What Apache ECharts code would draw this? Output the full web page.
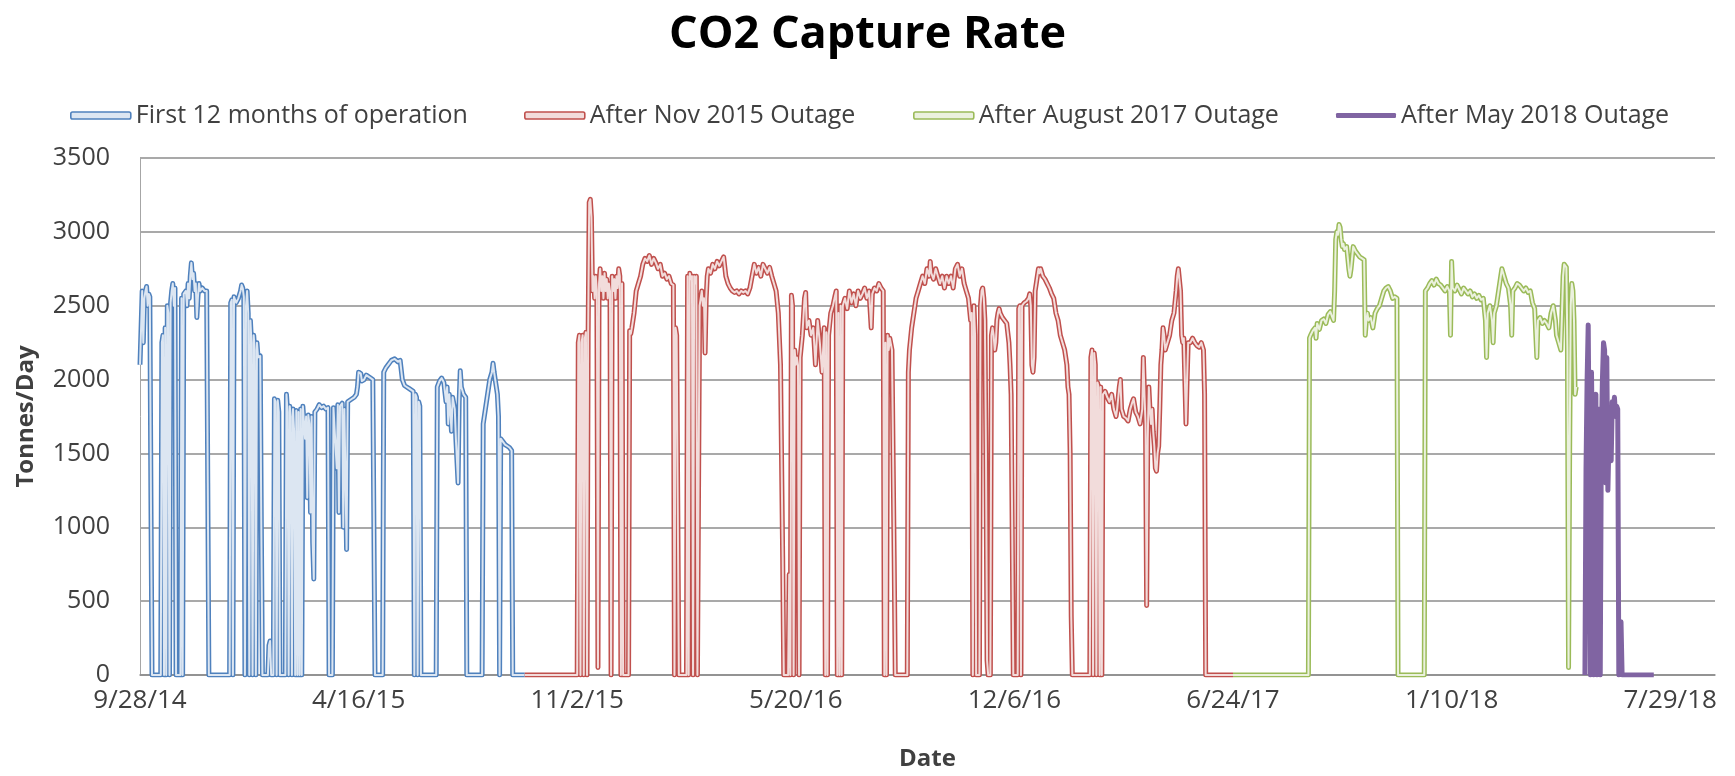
<!DOCTYPE html>
<html>
<head>
<meta charset="utf-8">
<title>CO2 Capture Rate</title>
<script src="https://cdn.jsdelivr.net/npm/echarts@6/dist/echarts.min.js"></script>
<style>
  html, body { margin: 0; padding: 0; background: #ffffff; }
  #chart { width: 1735px; height: 776px; }
</style>
</head>
<body>
<div id="chart"></div>
<script>
// Day offsets are counted from 9/28/2014; values are tonnes of CO2 per day.
const START_DATE = Date.UTC(2014, 8, 28);
const X_MAX_DAYS = 1441;
const X_TICK_DAYS = 200;
const Y_TICKS = [0, 500, 1000, 1500, 2000, 2500, 3000, 3500];

const seriesNames = [
  'First 12 months of operation',
  'After Nov 2015 Outage',
  'After August 2017 Outage',
  'After May 2018 Outage'
];

const firstYear = [
  [0,2100],[1,2350],[2,2600],[3,2250],[4,2550],[5,2600],[6,2630],[7,2500],[8,2580],[9,2560],[10,1200],[11,0],
  [19,0],[20,2250],[21,2300],[22,0],[23,2350],[24,0],[25,2500],[26,2450],[27,0],[28,2520],[29,2600],[30,2650],[31,2500],[32,2620],[33,0],
  [37,0],[38,2550],[39,0],[40,2580],[42,2600],[43,2500],[44,2650],[45,2550],[46,2700],[47,2790],[48,2680],[49,2720],[50,2600],[51,2650],[52,2420],[53,2560],[54,2650],[55,2600],[57,2620],[59,2600],[61,2600],[62,1300],[63,0],
  [82,0],[83,2520],[84,2540],[85,0],[86,2560],[88,2520],[90,2550],[92,2600],[93,2640],[94,2620],[95,2560],[96,0],[97,2500],[98,2600],[99,2450],[100,0],[101,2400],[102,2250],[103,0],[104,2300],[105,2200],[106,0],[107,2250],[108,2150],[110,2160],[111,1000],[112,0],
  [117,0],[118,200],[119,230],[120,0],
  [122,0],[123,1870],[124,1850],[125,0],[126,1860],[127,1780],[128,0],[133,0],[134,1900],[135,1780],[136,0],[137,1820],[138,1750],[139,0],[140,1800],[141,1650],[142,0],[143,1790],[144,0],[145,1780],[146,0],[147,1800],[148,0],[149,1820],[150,1830],[151,1600],[152,1750],[153,1200],[154,1760],[155,1700],[156,1100],[157,1750],[158,900],[159,650],[160,1780],[162,1800],[164,1830],[166,1810],[168,1820],[170,1800],[172,1810],[173,0],
  [176,0],[177,1810],[178,1820],[180,1400],[181,1830],[182,1100],[183,1820],[185,1840],[186,1000],[187,1800],[189,850],[190,1850],[192,1860],[194,1870],[196,1880],[198,1900],[199,1950],[200,2050],[202,2040],[203,1990],[205,2000],[207,2030],[209,2020],[211,2010],[213,2000],[214,1000],[215,0],
  [222,0],[223,2050],[225,2080],[227,2100],[230,2130],[233,2140],[236,2120],[238,2130],[240,2000],[242,1960],[244,1950],[246,1940],[248,1930],[250,1920],[251,0],[252,1900],[253,1880],[254,0],[255,1850],[256,1820],[257,0],
  [271,0],[272,1950],[274,1990],[276,2010],[278,1980],[280,1850],[281,1950],[282,1700],[283,1900],[285,1650],[286,1880],[288,1800],[289,1600],[291,1300],[292,1850],[293,2060],[294,1950],[296,1900],[298,1880],[299,0],
  [313,0],[314,1700],[316,1800],[318,1900],[320,2000],[322,2050],[323,2110],[324,2050],[325,2000],[326,1950],[327,1900],[328,1750],[329,0],[330,1600],[332,1580],[334,1560],[336,1550],[338,1540],[340,1520],[341,0],[352,0]
];

const afterNov2015 = [
  [352,0],[400,0],[401,2250],[402,2300],[403,0],[404,2250],[405,2300],[406,0],[407,2280],[408,2320],[409,0],[410,2300],[411,3200],[412,3220],[413,3100],[414,2600],[415,2700],[416,2550],[417,2700],[418,2600],[419,50],[420,2650],[421,2750],[422,2600],[423,2700],[424,2550],[425,2720],[426,2600],[427,2680],[428,2550],[429,2650],[430,2600],[431,0],[432,2700],[433,2600],[434,2680],[435,2550],[436,2700],[437,2620],[438,2750],[439,2700],[440,0],[441,2650],[442,0],
  [447,0],[448,2330],[449,2310],[450,2350],[452,2450],[454,2600],[456,2650],[458,2700],[460,2780],[462,2820],[464,2800],[466,2840],[468,2780],[470,2820],[472,2790],[474,2750],[476,2780],[478,2700],[480,2720],[482,2680],[484,2700],[486,2650],[488,2640],[489,0],[490,2350],[491,2300],[492,2300],[493,0],
  [500,0],[501,2700],[502,0],[503,2720],[504,2680],[505,2700],[506,0],[507,2700],[508,2650],[509,2700],[510,0],
  [511,0],[512,2500],[513,2550],[514,2600],[515,2500],[516,2550],[517,2180],[518,2550],[519,2700],[520,2750],[522,2720],[524,2780],[526,2750],[528,2800],[530,2770],[532,2800],[534,2830],[536,2700],[538,2650],[540,2620],[542,2600],[544,2590],[546,2600],[548,2580],[550,2600],[552,2590],[554,2600],[556,2580],[558,2620],[560,2700],[562,2780],[564,2720],[566,2760],[568,2700],[570,2780],[572,2750],[574,2720],[576,2760],[578,2700],[580,2650],[582,2600],[584,2450],[586,2100],[588,800],[589,0],
  [593,0],[594,680],[595,0],[596,2570],[597,2500],[598,0],[599,2200],[600,2100],[601,2150],[602,2100],[603,0],[604,2150],[606,2300],[608,2550],[609,2590],[610,2350],[612,2400],[614,2300],[616,2350],[618,2100],[620,2400],[622,2250],[624,2050],[626,2350],[627,0],[628,2320],[629,0],[630,2300],[632,2450],[634,2500],[636,2570],[637,2600],[638,0],[639,2450],[640,0],[641,2500],[642,0],[643,2500],[645,2550],[647,2480],[649,2600],[651,2520],[653,2580],[655,2500],[657,2600],[659,2550],[661,2580],[663,2620],[665,2550],[667,2600],[669,2350],[670,2580],[672,2620],[674,2600],[676,2650],[678,2620],[680,2600],[681,0],[682,2250],[683,0],[684,2300],[685,2200],[686,2280],[688,2200],[690,800],[691,0],
  [702,0],[703,2050],[704,2200],[706,2350],[708,2450],[710,2550],[712,2600],[714,2650],[716,2700],[718,2650],[720,2750],[722,2700],[723,2800],[724,2720],[726,2680],[728,2750],[730,2700],[732,2650],[734,2700],[736,2620],[738,2700],[740,2650],[742,2700],[744,2620],[746,2750],[748,2780],[750,2700],[752,2750],[754,2650],[756,2600],[758,2550],[760,2400],[761,2450],[762,0],[763,2500],[764,2300],[765,0],
  [768,0],[769,2500],[770,2600],[771,2620],[772,2550],[773,2400],[774,1500],[775,100],[776,0],[778,0],[779,2300],[780,2350],[781,2300],[782,2200],[783,2250],[784,2400],[785,2450],[786,2480],[787,2450],[789,2420],[791,2400],[793,2380],[795,2250],[796,2100],[797,1900],[798,1000],[799,0],
  [803,0],[804,2480],[805,2500],[806,0],[807,2500],[809,2520],[811,2530],[813,2550],[814,2580],[815,2500],[816,2100],[817,2050],[818,2150],[819,2600],[820,2650],[821,2700],[822,2750],[823,2720],[824,2750],[826,2700],[828,2680],[830,2650],[832,2620],[834,2580],[836,2550],[838,2450],[840,2400],[842,2300],[844,2250],[846,2200],[848,2100],[849,1950],[850,1900],[851,1500],[852,400],[853,0],
  [869,0],[870,2150],[871,2200],[872,0],[873,2180],[874,2100],[875,0],[876,1980],[877,1950],[878,0],[879,1950],[880,0],[881,1900],[883,1920],[885,1880],[887,1850],[889,1900],[891,1800],[893,1750],[894,1800],[896,1950],[897,2000],[898,1800],[900,1750],[902,1740],[904,1720],[906,1800],[908,1850],[909,1870],[911,1780],[913,1750],[915,1700],[917,1800],[918,2150],[919,1900],[920,1700],[921,470],[922,1600],[923,1950],[924,1800],[925,1700],[926,1800],[927,1650],[928,1550],[929,1400],[930,1380],[931,1500],[932,1550],[933,1800],[934,2100],[935,2200],[936,2350],[937,2300],[938,2200],[940,2250],[942,2300],[944,2400],[946,2450],[948,2600],[949,2700],[950,2750],[951,2740],[952,2600],[953,2300],[954,2250],[955,2280],[957,1700],[958,2000],[959,2250],[961,2250],[963,2280],[965,2250],[967,2230],[969,2220],[971,2250],[973,2200],[974,1900],[975,0],[1000,0]
];

const afterAug2017 = [
  [1000,0],[1069,0],[1070,2280],[1071,2300],[1073,2330],[1075,2350],[1076,2280],[1077,2380],[1079,2340],[1081,2400],[1083,2410],[1085,2380],[1087,2440],[1089,2460],[1091,2420],[1092,2400],[1093,2600],[1094,2950],[1095,3000],[1096,2980],[1097,3050],[1098,3030],[1099,2950],[1100,2900],[1101,2920],[1102,2880],[1104,2900],[1106,2750],[1107,2700],[1108,2750],[1110,2900],[1112,2870],[1114,2850],[1116,2830],[1118,2820],[1120,2810],[1121,2300],[1122,2400],[1123,2450],[1124,2400],[1126,2420],[1128,2350],[1130,2450],[1132,2480],[1134,2500],[1136,2550],[1138,2600],[1140,2620],[1142,2630],[1144,2600],[1146,2550],[1148,2560],[1150,2550],[1151,0],
  [1175,0],[1176,2600],[1178,2620],[1180,2650],[1182,2670],[1184,2640],[1186,2680],[1188,2650],[1190,2640],[1192,2620],[1194,2600],[1196,2630],[1198,2600],[1199,2300],[1200,2800],[1201,2620],[1203,2600],[1205,2640],[1207,2610],[1209,2580],[1211,2620],[1213,2600],[1215,2580],[1217,2600],[1219,2560],[1221,2580],[1223,2550],[1225,2570],[1227,2540],[1229,2550],[1231,2400],[1232,2150],[1233,2450],[1235,2500],[1237,2400],[1238,2250],[1239,2450],[1241,2500],[1243,2600],[1245,2700],[1246,2750],[1248,2700],[1250,2650],[1252,2620],[1254,2500],[1255,2300],[1256,2600],[1258,2620],[1260,2650],[1262,2640],[1264,2620],[1266,2600],[1268,2620],[1270,2590],[1272,2600],[1274,2520],[1276,2480],[1278,2150],[1279,2400],[1281,2420],[1283,2380],[1285,2400],[1287,2380],[1289,2350],[1291,2450],[1293,2500],[1295,2400],[1296,2300],[1298,2250],[1300,2200],[1301,2450],[1302,2700],[1303,2780],[1305,2760],[1306,2200],[1307,50],[1308,1500],[1309,2500],[1310,2650],[1311,2600],[1312,2400],[1313,1900],[1314,1950]
];

const afterMay2018 = [
  [1322,0],[1323,1400],[1324,2000],[1325,2370],[1326,1350],[1327,0],[1328,2050],[1329,1400],[1330,0],[1331,1450],[1332,1900],[1333,0],[1334,1800],[1335,1550],[1336,0],[1337,1600],[1338,2000],[1339,2250],[1340,2200],[1341,1300],[1342,2150],[1343,1250],[1344,1600],[1345,1700],[1346,1450],[1347,1850],[1348,1800],[1349,1880],[1350,1750],[1351,1820],[1352,1800],[1353,0],[1354,0],[1355,360],[1356,0],[1385,0]
];

// Line colours: outer stroke and the pale core of the double lines.
const outerColors = ['#4f81bd', '#c0504d', '#9bbb59', '#8064a2'];
const coreColors = ['#dce6f2', '#f2dcdb', '#ebf1de', null];
const seriesData = [firstYear, afterNov2015, afterAug2017, afterMay2018];

const FONT = "'Open Sans', 'Noto Sans', sans-serif";

function dayLabel(d) {
  const t = new Date(START_DATE + d * 86400000);
  return (t.getUTCMonth() + 1) + '/' + t.getUTCDate() + '/' + String(t.getUTCFullYear()).slice(2);
}

const series = [];
seriesData.forEach(function (data, i) {
  series.push({
    name: seriesNames[i],
    type: 'line',
    data: data,
    showSymbol: false,
    symbol: 'none',
    silent: true,
    z: 2 + i * 2,
    itemStyle: { color: outerColors[i] },
    lineStyle: { color: outerColors[i], width: coreColors[i] ? 5 : 5, join: 'round' }
  });
  if (coreColors[i]) {
    series.push({
      name: seriesNames[i],
      type: 'line',
      data: data,
      showSymbol: false,
      symbol: 'none',
      silent: true,
      z: 3 + i * 2,
      itemStyle: { color: outerColors[i] },
      lineStyle: { color: coreColors[i], width: 2, join: 'round' }
    });
  }
});

// One legend block per entry, laid out along the top row.
const legendLeft = [65, 519, 908, 1331];
const legends = seriesNames.map(function (name, i) {
  const solid = !coreColors[i];
  return {
    left: legendLeft[i],
    top: 98,
    itemWidth: 60,
    itemHeight: solid ? 5 : 7,
    itemGap: 0,
    selectedMode: false,
    textStyle: { fontFamily: FONT, fontSize: 25, color: '#404040' },
    data: [{
      name: name,
      icon: 'roundRect',
      itemStyle: solid
        ? { color: outerColors[i], borderWidth: 0 }
        : { color: coreColors[i], borderColor: outerColors[i], borderWidth: 1.6 }
    }]
  };
});

const chart = echarts.init(document.getElementById('chart'), null, { renderer: 'canvas' });
chart.setOption({
  animation: false,
  backgroundColor: '#ffffff',
  textStyle: { fontFamily: FONT },
  title: {
    text: 'CO2 Capture Rate',
    left: 'center',
    top: 8,
    textStyle: { fontFamily: FONT, fontSize: 45, fontWeight: 'bold', color: '#000000' }
  },
  legend: legends,
  grid: { left: 140, right: 20, top: 158, bottom: 99, containLabel: false },
  xAxis: {
    type: 'value',
    min: 0,
    max: X_MAX_DAYS,
    interval: X_TICK_DAYS,
    name: 'Date',
    nameLocation: 'middle',
    nameGap: 72,
    nameTextStyle: { fontFamily: FONT, fontSize: 24, fontWeight: 'bold', color: '#404040' },
    axisLine: { show: true, lineStyle: { color: '#8c8c8c', width: 1.5 } },
    axisTick: { show: false },
    splitLine: { show: false },
    axisLabel: {
      show: true,
      margin: 13,
      showMinLabel: true,
      showMaxLabel: false,
      fontFamily: FONT,
      fontSize: 26,
      color: '#404040',
      formatter: function (v) { return dayLabel(v); }
    }
  },
  yAxis: {
    type: 'value',
    min: Y_TICKS[0],
    max: Y_TICKS[Y_TICKS.length - 1],
    interval: Y_TICKS[1] - Y_TICKS[0],
    name: 'Tonnes/Day',
    nameLocation: 'middle',
    nameGap: 102,
    nameTextStyle: { fontFamily: FONT, fontSize: 24, fontWeight: 'bold', color: '#404040' },
    axisLine: { show: true, lineStyle: { color: '#a6a6a6', width: 1 } },
    axisTick: { show: false },
    splitLine: { show: true, lineStyle: { color: '#8c8c8c', width: 1.5 } },
    axisLabel: {
      margin: 30,
      fontFamily: FONT,
      fontSize: 25,
      color: '#404040',
      formatter: function (v) { return String(v); }
    }
  },
  series: series
});
</script>
</body>
</html>
